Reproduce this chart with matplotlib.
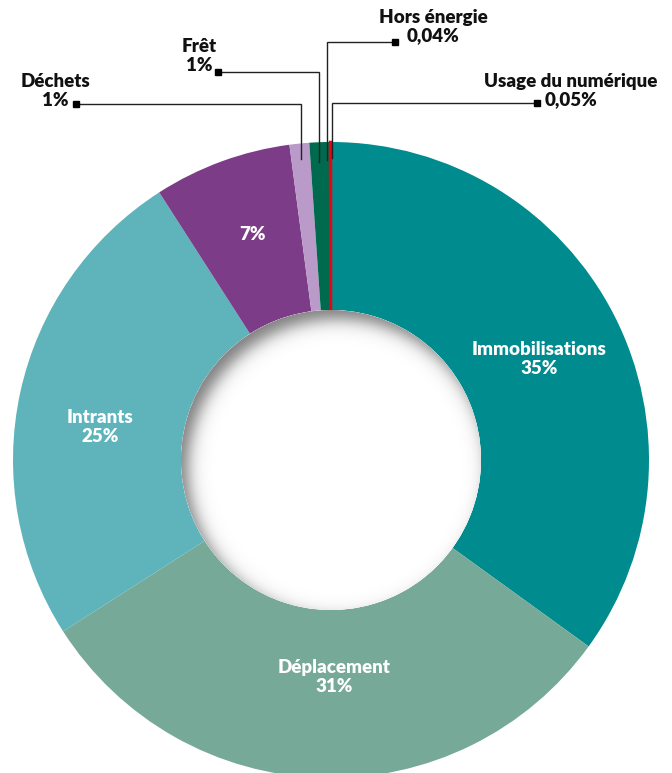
import matplotlib
matplotlib.use("Agg")
import matplotlib.pyplot as plt
from matplotlib.patches import Circle
import numpy as np

# Data (percent shares, clockwise from the top)
categories = ["Immobilisations", "Déplacement", "Intrants", "", "Déchets", "Frêt",
              "Hors énergie", "Usage du numérique"]
shares = [35, 31, 25, 7, 1, 1, 0.04, 0.05]
share_labels = ["35%", "31%", "25%", "7%", "1%", "1%", "0,04%", "0,05%"]
colors = ["#008b8e", "#77a998", "#5eb4ba", "#7d3c87", "#b99ac8", "#006a4e",
          "#006a4e", "#e30613"]

W, H = 672, 773
fig = plt.figure(figsize=(W / 100, H / 100), dpi=100)
ax = fig.add_axes([0, 0, 1, 1])
ax.set_xlim(0, W)
ax.set_ylim(0, H)
ax.axis("off")

cx, cy = 331, H - 460
r_out, r_in = 318, 150

wedges, _ = ax.pie(shares, colors=colors, startangle=90, counterclock=False,
                   radius=r_out, center=(cx, cy), frame=False,
                   wedgeprops=dict(width=r_out - r_in, linewidth=0))
# make the tiny red slice visible
wedges[-1].set_edgecolor(colors[-1])
wedges[-1].set_linewidth(1.8)

# hole with an inner shadow (light from bottom-right)
hole = Circle((cx, cy), r_in, facecolor="white", edgecolor="none", zorder=3)
ax.add_patch(hole)
xs = np.linspace(cx - r_in, cx + r_in, 400)
ys = np.linspace(cy - r_in, cy + r_in, 400)
X, Y = np.meshgrid(xs, ys)
d = np.hypot(X - (cx + 7), Y - (cy - 9))
shade = 1 / (1 + np.exp(-(d - r_in) / 5.0))
img = 1 - 0.52 * shade
im = ax.imshow(img, cmap="gray", vmin=0, vmax=1, origin="lower",
               extent=(cx - r_in, cx + r_in, cy - r_in, cy + r_in),
               interpolation="bilinear", zorder=4)
im.set_clip_path(Circle((cx, cy), r_in, transform=ax.transData))
ax.set_xlim(0, W)
ax.set_ylim(0, H)

font = "Lato"
fs = 13.5
wt = "heavy"
# labels inside the ring
inner = [(539, 359, 0), (334, 677, 1), (100, 427, 2)]
for x, y, i in inner:
    ax.text(x, H - y, f"{categories[i]}\n{share_labels[i]}", color="white",
            ha="center", va="center", fontsize=fs, fontweight=wt,
            family=font, linespacing=1.08, zorder=5)
ax.text(253, H - 234, share_labels[3], color="white", ha="center", va="center",
        fontsize=fs, fontweight=wt, family=font, zorder=5)

# callouts for the small slices: (text x, text y, marker, elbow x, end y, slice)
callouts = [
    (55, 91, (76, 104), 301, 159, 4),
    (199, 56, (218, 72), 319, 162, 5),
    (433, 27, (395, 42), 327, 160, 6),
    (571, 91, (537, 103), 332, 158, 7),
]
for tx, ty, (mx, my), ex, ey, i in callouts:
    ax.text(tx, H - ty, f"{categories[i]}\n{share_labels[i]}", color="#111111",
            ha="center", va="center", fontsize=fs, fontweight=wt,
            family=font, linespacing=1.08, zorder=5)
    ax.plot([mx, ex, ex], [H - my, H - my, H - ey], color="#222222", lw=1,
            zorder=6, solid_joinstyle="miter")
    ax.plot(mx, H - my, marker="s", color="black", markersize=4, zorder=6)

fig.savefig("out.png", dpi=100)
